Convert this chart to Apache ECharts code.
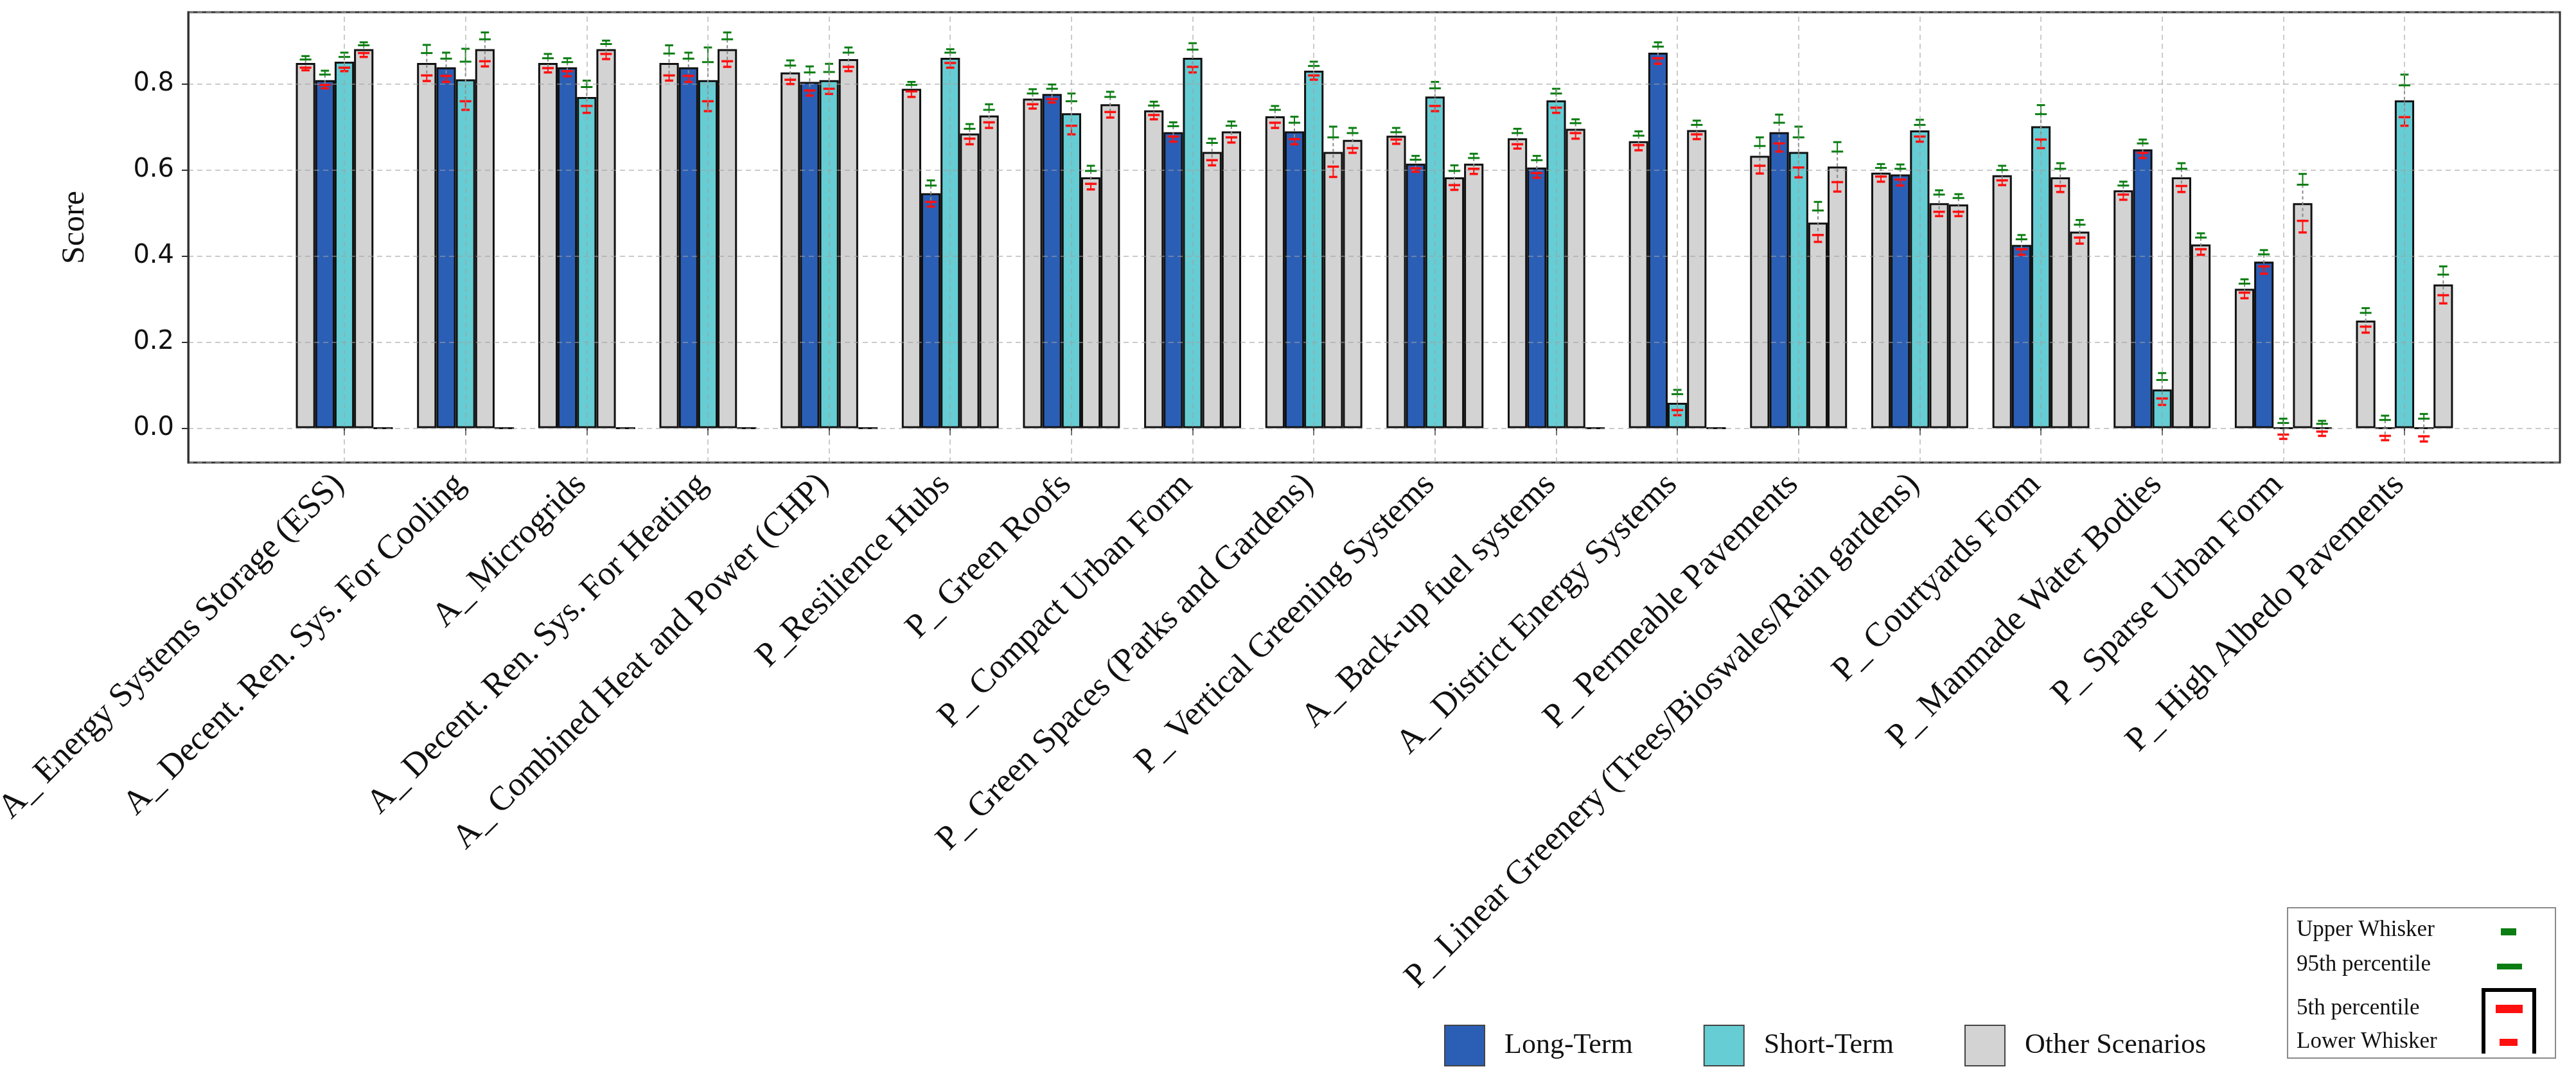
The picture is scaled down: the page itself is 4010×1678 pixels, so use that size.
<!DOCTYPE html>
<html><head><meta charset="utf-8">
<script src="https://cdn.jsdelivr.net/npm/echarts@6.0.0/dist/echarts.min.js"></script>
<style>html,body{margin:0;padding:0;background:#fff}#c{width:4010px;height:1678px}</style>
</head><body><div id="c"></div>
<script>
const categories = [
  "A_ Energy Systems Storage (ESS)",
  "A_ Decent. Ren. Sys. For Cooling",
  "A_ Microgrids",
  "A_ Decent. Ren. Sys. For Heating",
  "A_ Combined Heat and Power (CHP)",
  "P_Resilience Hubs",
  "P_ Green Roofs",
  "P_ Compact Urban Form",
  "P_ Green Spaces (Parks and Gardens)",
  "P_ Vertical Greening Systems",
  "A_ Back-up fuel systems",
  "A_ District Energy Systems",
  "P_ Permeable Pavements",
  "P_ Linear Greenery (Trees/Bioswales/Rain gardens)",
  "P_ Courtyards Form",
  "P_ Manmade Water Bodies",
  "P_ Sparse Urban Form",
  "P_ High Albedo Pavements"
];
const seriesNames = ["Other Scenarios", "Long-Term", "Short-Term", "Other Scenarios", "Other Scenarios"];
const scenario1 = [0.849,0.849,0.849,0.849,0.827,0.789,0.766,0.739,0.725,0.680,0.674,0.667,0.633,0.594,0.588,0.553,0.324,0.250];
const scenario2 = [0.809,0.839,0.839,0.839,0.805,0.546,0.777,0.688,0.690,0.615,0.606,0.873,0.688,0.590,0.426,0.648,0.387,0];
const scenario3 = [0.852,0.811,0.770,0.809,0.809,0.861,0.732,0.861,0.831,0.771,0.762,0.059,0.642,0.692,0.702,0.090,0,0.762];
const scenario4 = [0.881,0.881,0.881,0.881,0.858,0.685,0.583,0.642,0.642,0.583,0.696,0.693,0.478,0.523,0.583,0.583,0.523,0];
const scenario5 = [0,0,0,0,0,0.727,0.753,0.690,0.670,0.615,0,0,0.608,0.520,0.457,0.427,0,0.334];

// whisker statistics per category, one entry per scenario (null = none)
const upperWhisker = [
  [0.865,0.831,0.873,0.897,null],[0.891,0.873,0.882,0.920,null],[0.870,0.860,0.808,0.901,null],
  [0.890,0.873,0.885,0.920,null],[0.855,0.841,0.847,0.885,null],[0.805,0.576,0.881,0.707,0.753],
  [0.788,0.799,0.778,0.610,0.782],[0.759,0.711,0.895,0.673,0.713],[0.749,0.724,0.852,0.701,0.698],
  [0.698,0.633,0.805,0.611,0.638],[0.696,0.633,0.789,0.718,null],[0.690,0.897,0.089,0.715,null],
  [0.676,0.729,0.701,0.526,0.665],[0.614,0.613,0.717,0.553,0.544],[0.610,0.449,0.751,0.616,0.484],
  [0.573,0.671,0.128,0.616,0.453],[0.346,0.414,0.022,0.591,0.017],[0.279,0.029,0.822,0.033,0.376]
];
const percentile95 = [
  [0.857,0.822,0.863,0.890,null],[0.872,0.859,0.852,0.904,null],[0.860,0.851,0.793,0.893,null],
  [0.871,0.859,0.851,0.904,null],[0.843,0.827,0.828,0.873,null],[0.798,0.564,0.873,0.696,0.740],
  [0.778,0.789,0.760,0.598,0.770],[0.750,0.702,0.880,0.663,0.703],[0.740,0.710,0.842,0.676,0.686],
  [0.688,0.624,0.790,0.598,0.628],[0.686,0.623,0.778,0.709,null],[0.680,0.887,0.079,0.705,null],
  [0.656,0.710,0.676,0.506,0.643],[0.605,0.603,0.705,0.543,0.535],[0.600,0.439,0.730,0.603,0.473],
  [0.564,0.662,0.112,0.603,0.443],[0.336,0.404,0.012,0.566,0.010],[0.268,0.019,0.797,0.022,0.357]
];
const percentile5 = [
  [0.838,0.798,0.838,0.872,null],[0.820,0.819,0.760,0.853,null],[0.837,0.830,0.749,0.870,null],
  [0.820,0.819,0.760,0.853,null],[0.810,0.785,0.789,0.840,null],[0.783,0.526,0.849,0.673,0.711],
  [0.753,0.765,0.703,0.568,0.735],[0.728,0.678,0.840,0.623,0.676],[0.710,0.672,0.820,0.608,0.651],
  [0.671,0.604,0.749,0.565,0.603],[0.660,0.593,0.745,0.686,null],[0.658,0.860,0.042,0.683,null],
  [0.610,0.662,0.606,0.449,0.572],[0.585,0.578,0.678,0.503,0.503],[0.576,0.416,0.671,0.563,0.443],
  [0.543,0.640,0.069,0.563,0.416],[0.315,0.376,-0.015,0.482,-0.008],[0.236,-0.018,0.723,-0.019,0.309]
];
const lowerWhisker = [
  [0.832,0.790,0.830,0.863,null],[0.807,0.805,0.740,0.841,null],[0.827,0.818,0.733,0.858,null],
  [0.808,0.805,0.737,0.840,null],[0.800,0.773,0.777,0.830,null],[0.770,0.515,0.838,0.660,0.698],
  [0.743,0.757,0.683,0.555,0.722],[0.718,0.666,0.827,0.611,0.664],[0.698,0.660,0.810,0.584,0.640],
  [0.661,0.596,0.737,0.554,0.591],[0.650,0.582,0.733,0.673,null],[0.646,0.847,0.030,0.672,null],
  [0.592,0.643,0.583,0.433,0.550],[0.573,0.564,0.666,0.493,0.493],[0.565,0.403,0.651,0.549,0.429],
  [0.531,0.628,0.054,0.549,0.403],[0.302,0.359,-0.025,0.455,-0.018],[0.222,-0.028,0.703,-0.031,0.290]
];
const yTickLabels = ["0.0","0.2","0.4","0.6","0.8"];
const yAxisTitle = "Score";
const keyLabels = ["Upper Whisker","95th percentile","5th percentile","Lower Whisker"];

const BLUE = '#2b5fb6', CYAN = '#66cdd4', GRAY = '#d3d3d3';
const GREEN = '#0b7d12', RED = '#ff1010';
const colors = [GRAY, BLUE, CYAN, GRAY, GRAY];
const scenarios = [scenario1, scenario2, scenario3, scenario4, scenario5];
const BAR_FRAC = 0.16;
const Y_MIN = -0.08, Y_MAX = 0.967;

const whiskerData = [];
for (let c = 0; c < categories.length; c++) {
  for (let s = 0; s < 5; s++) {
    if (upperWhisker[c][s] == null) continue;
    whiskerData.push([c, s, upperWhisker[c][s], percentile95[c][s], percentile5[c][s], lowerWhisker[c][s]]);
  }
}

function renderWhisker(params, api) {
  const c = api.value(0), s = api.value(1);
  const band = api.size([1, 0])[0];
  const x = api.coord([c, 0])[0] + (s - 2) * band * BAR_FRAC;
  const yU = api.coord([c, api.value(2)])[1];
  const y95 = api.coord([c, api.value(3)])[1];
  const y5 = api.coord([c, api.value(4)])[1];
  const yL = api.coord([c, api.value(5)])[1];
  const sc = band * 0.034, lc = band * 0.048;
  const seg = (x1, y1, x2, y2, st) => ({type: 'line', shape: {x1, y1, x2, y2}, style: st});
  return {type: 'group', children: [
    seg(x, y95, x, y5, {stroke: '#8a8a8a', lineWidth: 2, lineDash: [5, 4]}),
    seg(x, yU, x, y95, {stroke: GREEN, lineWidth: 2}),
    seg(x, y5, x, yL, {stroke: RED, lineWidth: 2}),
    seg(x - sc, yU, x + sc, yU, {stroke: GREEN, lineWidth: 3}),
    seg(x - lc, y95, x + lc, y95, {stroke: GREEN, lineWidth: 3}),
    seg(x - lc, y5, x + lc, y5, {stroke: RED, lineWidth: 3.5}),
    seg(x - sc, yL, x + sc, yL, {stroke: RED, lineWidth: 3.5})
  ]};
}

const barSeries = scenarios.map((vals, i) => ({
  name: seriesNames[i],
  type: 'bar',
  xAxisIndex: 1, yAxisIndex: 1,
  data: vals,
  barGap: '0%',
  barCategoryGap: '20%',
  z: 2,
  itemStyle: {color: colors[i], borderColor: '#111', borderWidth: 3},
  emphasis: {disabled: true}
}));

const serif = 'Liberation Serif';
const gridStyle = {type: [8, 6], color: 'rgba(160,160,160,0.55)', width: 2};

const option = {
  animation: false,
  backgroundColor: '#fff',
  grid: [
    {left: 293, right: 25, top: 19, bottom: 958, show: true, borderColor: '#333', borderWidth: 3,
     backgroundColor: 'transparent', containLabel: false, outerBoundsMode: 'none'},
    {left: 441.7, right: 172.7, top: 19, bottom: 958, containLabel: false, outerBoundsMode: 'none'}
  ],
  xAxis: [
    {gridIndex: 0, type: 'value', min: 0, max: 1, show: false},
    {
      gridIndex: 1, type: 'category', data: categories, z: 3,
      axisLine: {show: false},
      axisTick: {show: true, alignWithLabel: true, length: 11, lineStyle: {color: '#333', width: 2}},
      splitLine: {show: false},
      axisLabel: {interval: 0, rotate: 45, margin: 18, fontFamily: serif, fontSize: 53, color: '#111', padding: [0, 12, 0, 0]}
    }
  ],
  yAxis: [
    {
      gridIndex: 0, type: 'value', min: Y_MIN, max: Y_MAX, z: 3,
      axisLine: {show: true, lineStyle: {color: '#333', width: 3}},
      axisTick: {show: true, length: 10, lineStyle: {color: '#333', width: 2}},
      splitLine: {show: true, lineStyle: gridStyle},
      axisLabel: {
        showMinLabel: false, showMaxLabel: false, margin: 22,
        fontFamily: 'DejaVu Sans', fontSize: 40, color: '#111',
        formatter: v => { const t = v.toFixed(1); return yTickLabels.includes(t) && Math.abs(v * 10 - Math.round(v * 10)) < 1e-6 ? t : ''; }
      }
    },
    {gridIndex: 1, type: 'value', min: Y_MIN, max: Y_MAX, show: false}
  ],
  legend: {
    data: ['Long-Term', 'Short-Term', 'Other Scenarios'],
    left: 2243, top: 1590, orient: 'horizontal',
    icon: 'rect', itemWidth: 62, itemHeight: 63, itemGap: 110,
    itemStyle: {borderColor: '#444', borderWidth: 2},
    textStyle: {fontFamily: serif, fontSize: 44, color: '#111', padding: [0, 0, 0, 26]}
  },
  series: [
    ...barSeries,
    {
      type: 'line', name: 'gridX', xAxisIndex: 1, yAxisIndex: 1, data: [], z: 3, silent: true,
      markLine: {
        silent: true, symbol: ['none', 'none'], label: {show: false},
        lineStyle: gridStyle, emphasis: {disabled: true},
        data: categories.map(c => ({xAxis: c}))
      }
    },
    {
      type: 'custom', name: 'whiskers', renderItem: renderWhisker, data: whiskerData, z: 4,
      xAxisIndex: 1, yAxisIndex: 1,
      encode: {x: 0, y: [2, 3, 4, 5]}, silent: true
    }
  ],
  graphic: [
    {type: 'text', x: 117, y: 354, rotation: Math.PI / 2,
     style: {text: yAxisTitle, font: '50px "Liberation Serif"', fill: '#111', align: 'center', verticalAlign: 'middle'}},
    {type: 'rect', shape: {x: 3561, y: 1413, width: 417, height: 234}, style: {fill: '#fff', stroke: '#8a8a8a', lineWidth: 2}},
    {type: 'text', x: 3575, y: 1448, style: {text: keyLabels[0], font: '35px "Liberation Serif"', fill: '#111', verticalAlign: 'middle'}},
    {type: 'text', x: 3575, y: 1502, style: {text: keyLabels[1], font: '35px "Liberation Serif"', fill: '#111', verticalAlign: 'middle'}},
    {type: 'text', x: 3575, y: 1570, style: {text: keyLabels[2], font: '35px "Liberation Serif"', fill: '#111', verticalAlign: 'middle'}},
    {type: 'text', x: 3575, y: 1622, style: {text: keyLabels[3], font: '35px "Liberation Serif"', fill: '#111', verticalAlign: 'middle'}},
    {type: 'rect', shape: {x: 3893, y: 1445, width: 24, height: 11}, style: {fill: GREEN}},
    {type: 'rect', shape: {x: 3887, y: 1500, width: 39, height: 9}, style: {fill: GREEN}},
    {type: 'rect', shape: {x: 3885, y: 1564, width: 42, height: 13}, style: {fill: RED}},
    {type: 'rect', shape: {x: 3891, y: 1617, width: 28, height: 11}, style: {fill: RED}},
    {type: 'polyline', shape: {points: [[3866, 1640], [3866, 1541], [3945, 1541], [3945, 1640]]}, style: {stroke: '#000', lineWidth: 6, fill: null}}
  ]
};

const chart = echarts.init(document.getElementById('c'), null, {renderer: 'canvas'});
chart.setOption(option);
</script></body></html>
